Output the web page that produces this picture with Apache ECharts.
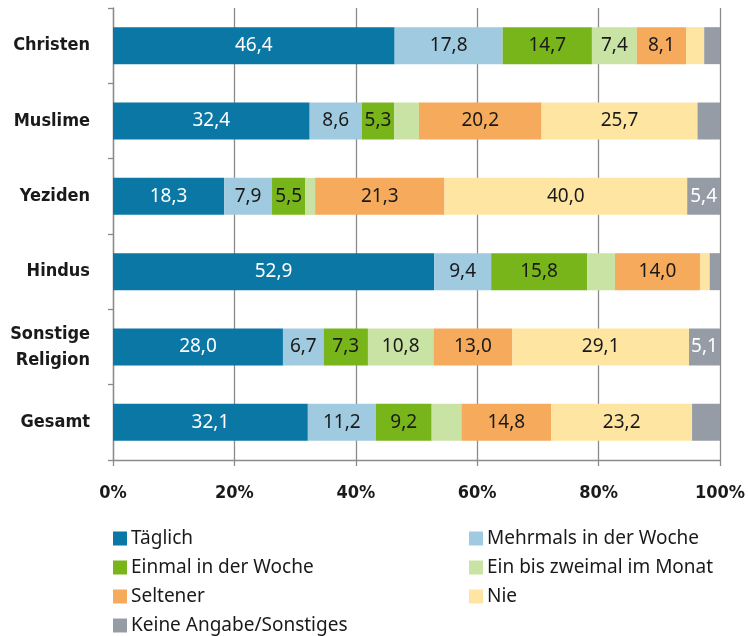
<!DOCTYPE html>
<html>
<head>
<meta charset="utf-8">
<script src="https://cdn.jsdelivr.net/npm/echarts@6/dist/echarts.min.js"></script>
<style>
  html, body { margin: 0; padding: 0; background: #ffffff; }
  #chart { width: 748px; height: 636px; }
</style>
</head>
<body>
<div id="chart"></div>
<script>
// Religious groups (rows, top to bottom)
const categories = ['Christen', 'Muslime', 'Yeziden', 'Hindus', 'Sonstige\nReligion', 'Gesamt'];

// Shares in percent per answer
const taeglich   = [46.4, 32.4, 18.3, 52.9, 28.0, 32.1];
const mehrmals   = [17.8,  8.6,  7.9,  9.4,  6.7, 11.2];
const einmal     = [14.7,  5.3,  5.5, 15.8,  7.3,  9.2];
const einBisZwei = [ 7.4,  4.1,  1.6,  4.6, 10.8,  4.9];
const seltener   = [ 8.1, 20.2, 21.3, 14.0, 13.0, 14.8];
const nie        = [ 3.0, 25.7, 40.0,  1.6, 29.1, 23.2];
const keine      = [ 2.6,  3.7,  5.4,  1.7,  5.1,  4.6];

const seriesNames = [
  'Täglich', 'Mehrmals in der Woche', 'Einmal in der Woche',
  'Ein bis zweimal im Monat', 'Seltener', 'Nie', 'Keine Angabe/Sonstiges'
];
const seriesData = [taeglich, mehrmals, einmal, einBisZwei, seltener, nie, keine];
const seriesColors = ['#0a77a5', '#9fcadf', '#77b51a', '#c8e3a4', '#f5aa5c', '#fee6a2', '#969ca5'];
const labelColors  = ['#ffffff', '#1a1a1a', '#1a1a1a', '#1a1a1a', '#1a1a1a', '#1a1a1a', '#ffffff'];

// x-axis tick labels
const xTicks = ['0%', '20%', '40%', '60%', '80%', '100%'];

// segments narrower than this stay unlabelled
const LABEL_MIN = 5;

const AXIS_FONT = '"DejaVu Sans Condensed", "Liberation Sans Narrow", sans-serif';
const TEXT_FONT = '"Noto Sans", "Open Sans", sans-serif';
const TEXT = '#1a1a1a';
const LINE = '#8a8a8a';

const chart = echarts.init(document.getElementById('chart'), null, { renderer: 'canvas' });

const series = seriesNames.map((name, i) => ({
  name: name,
  type: 'bar',
  stack: 'total',
  barWidth: 37,
  data: seriesData[i],
  itemStyle: { color: seriesColors[i] },
  emphasis: { disabled: true },
  label: {
    show: true,
    position: 'inside',
    color: labelColors[i],
    fontFamily: TEXT_FONT,
    fontSize: 19,
    formatter: p => (p.value >= LABEL_MIN ? p.value.toFixed(1).replace('.', ',') : '')
  }
}));

// two legend columns, rows ~29 px apart
const legendCommon = {
  orient: 'vertical',
  top: 529,
  height: 107,
  padding: 0,
  itemWidth: 14,
  itemHeight: 14,
  itemGap: 10,
  icon: 'rect',
  selectedMode: false,
  textStyle: { fontFamily: TEXT_FONT, fontSize: 19, lineHeight: 19, color: TEXT, padding: [0, 0, 0, -1] }
};

chart.setOption({
  animation: false,
  backgroundColor: '#ffffff',
  grid: { left: 113, right: 28, top: 8, bottom: 176, containLabel: false },
  legend: [
    Object.assign({}, legendCommon, {
      left: 113,
      data: [seriesNames[0], seriesNames[2], seriesNames[4], seriesNames[6]]
    }),
    Object.assign({}, legendCommon, {
      left: 469,
      data: [seriesNames[1], seriesNames[3], seriesNames[5]]
    })
  ],
  xAxis: {
    type: 'value',
    min: 0,
    max: 100,
    interval: 20,
    axisLine: { show: true, lineStyle: { color: LINE, width: 1.3 } },
    axisTick: { show: true, length: 6, lineStyle: { color: LINE, width: 1.3 } },
    splitLine: { show: true, lineStyle: { color: LINE, width: 1.3 } },
    axisLabel: {
      margin: 24,
      fontFamily: AXIS_FONT,
      fontWeight: 'bold',
      fontSize: 18,
      color: TEXT,
      formatter: v => xTicks[Math.round(v / 20)]
    }
  },
  yAxis: {
    type: 'category',
    inverse: true,
    data: categories,
    axisLine: { show: true, lineStyle: { color: LINE, width: 1.3 } },
    axisTick: { show: true, length: 5, lineStyle: { color: LINE, width: 1.3 } },
    axisLabel: {
      margin: 23,
      fontFamily: AXIS_FONT,
      fontWeight: 'bold',
      fontSize: 18,
      lineHeight: 26,
      align: 'right',
      color: TEXT
    }
  },
  series: series
});
</script>
</body>
</html>
